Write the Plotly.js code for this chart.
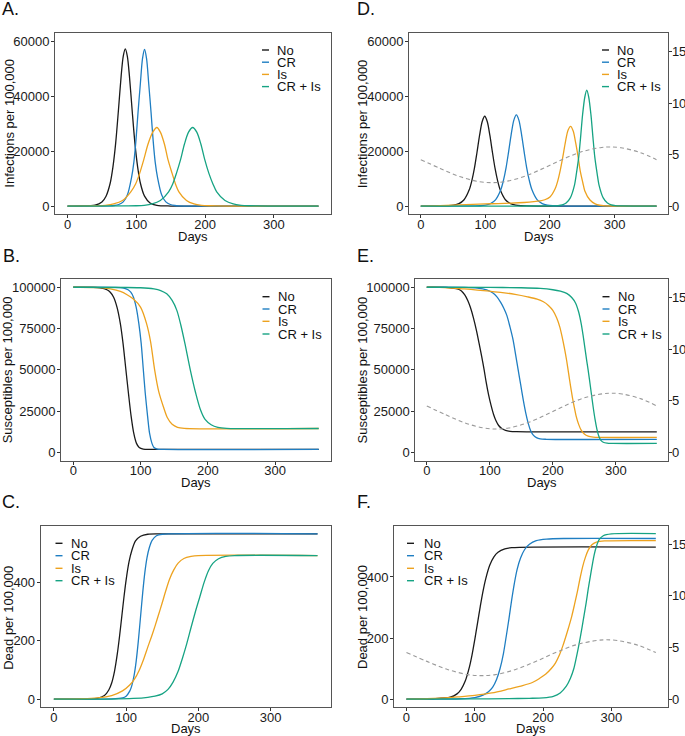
<!DOCTYPE html>
<html>
<head>
<meta charset="utf-8">
<script src="https://cdn.plot.ly/plotly-3.0.1.min.js"></script>
<style>html,body{margin:0;padding:0;background:#fff}#chart{width:685px;height:736px}</style>
</head>
<body>
<div id="chart"></div>
<script>
// ---------- data ----------
const seriesNames = ["No", "CR", "Is", "CR + Is"];
const xTicks = [0, 100, 200, 300];

// Panel A: infections, no seasonality
const aNoX = [0, 20, 40, 50, 56, 62, 66, 70, 74, 78, 81, 84, 87, 90, 94, 98, 102, 106, 112, 120, 130, 150, 200, 365];
const aNoY = [0, 20, 355, 1520, 3600, 8300, 14200, 22900, 34800, 47400, 54500, 57200, 54500, 47400, 34800, 22900, 14200, 8300, 3600, 1130, 265, 10, 0, 0];
const aCrX = [0, 40, 62, 68, 74.5, 81, 87, 93, 96.5, 99.5, 102.5, 106, 109, 112, 115, 118, 121.5, 124.5, 127.5, 131, 137, 143, 149.5, 156, 162, 175, 200, 365];
const aCrY = [0, 5, 76, 207, 563, 1520, 4030, 10300, 16000, 23900, 34000, 44800, 53600, 57000, 53600, 44800, 34000, 23900, 16000, 10300, 4030, 1520, 563, 207, 76, 10, 0, 0];
const aIsX = [0, 30, 42, 55, 67, 80, 92, 99, 105, 111, 117, 124, 130, 135, 141, 146, 152, 157, 162, 173, 184, 195, 206, 216, 240, 365];
const aIsY = [0, 38, 104, 282, 760, 2020, 5180, 8040, 12000, 17000, 22500, 26900, 28600, 26900, 22500, 17000, 12000, 8040, 5180, 2020, 760, 282, 104, 38, 5, 0];
const aBothX = [0, 88, 100, 111.5, 123, 135, 147, 153, 158.5, 164.5, 170, 176, 182, 188, 194, 199.5, 205.5, 211.5, 217, 229, 241, 252.5, 264, 276, 300, 365];
const aBothY = [0, 38, 104, 282, 760, 2020, 5180, 8040, 12000, 17000, 22500, 26900, 28600, 26900, 22500, 17000, 12000, 8040, 5180, 2020, 760, 282, 104, 38, 3, 0];

// Panel B: susceptibles, no seasonality
const bNoX = [0, 30, 40, 50, 55, 60, 65, 70, 74, 78, 82, 86, 90, 94, 98, 104, 115, 365];
const bNoY = [100000, 99900, 99600, 98500, 97000, 94000, 88000, 78000, 66000, 51000, 36000, 22000, 11500, 5500, 3000, 2000, 1800, 1800];
const bCrX = [0, 60, 75, 81.5, 85.5, 89.5, 93.5, 97.5, 101, 104, 107, 110.5, 113.5, 117, 120, 125, 134, 365];
const bCrY = [100000, 99900, 99500, 98500, 97000, 94000, 88000, 78000, 66000, 51000, 36000, 22000, 11500, 5500, 3000, 2000, 1800, 1800];
const bIsX = [0, 40, 55, 70, 80, 89, 100, 109, 115, 121, 127, 134, 140, 147, 155, 165, 365];
const bIsY = [100000, 99800, 99000, 97500, 95500, 93000, 88000, 78000, 67000, 50000, 37000, 27700, 21000, 17000, 15200, 14600, 14500];
const bBothX = [0, 100, 120, 130, 139, 147, 154, 160, 166, 174, 182, 189, 196, 205, 215, 228, 365];
const bBothY = [100000, 99700, 99000, 98000, 96000, 92000, 86000, 77000, 66000, 50000, 36000, 26000, 20000, 16800, 15200, 14600, 14500];

// Panel C: dead, no seasonality
const cNoX = [0, 50, 60, 70, 76, 80, 84, 88, 91, 94, 97, 100, 104, 108, 113, 120, 130, 150, 365];
const cNoY = [0, 0.5, 2.5, 12, 31, 55, 96, 158, 217, 283, 349, 408, 470, 510, 542, 558, 565, 566, 566];
const cCrX = [0, 80, 95, 100, 105, 108, 111, 114, 117, 120, 123, 126, 129, 132, 136, 142, 150, 365];
const cCrY = [0, 0.5, 4, 10, 27, 47, 80, 131, 201, 283, 365, 435, 486, 518, 544, 560, 565, 566];
const cIsX = [0, 40, 60, 80, 95, 105, 112, 118, 124, 130, 135, 140, 145, 150, 155, 160, 166, 172, 180, 190, 200, 365];
const cIsY = [0, 1, 4, 12, 28, 48, 70, 98, 135, 178, 213, 250, 290, 330, 372, 410, 443, 466, 482, 489, 492, 492];
const cBothX = [0, 80, 110, 130, 140, 150, 158, 165, 172, 178, 184, 190, 196, 202, 208, 214, 220, 228, 238, 250, 365];
const cBothY = [0, 0, 2, 6, 10, 18, 33, 58, 95, 140, 190, 246, 300, 350, 400, 440, 465, 481, 489, 492, 492];

// Panel D: infections, seasonal
const dNoX = [0, 35, 43, 51, 59, 67, 75, 79, 83, 87, 91, 95, 99, 103, 107, 111, 115, 119, 123, 131, 139, 147, 155, 163, 180, 365];
const dNoY = [0, 44, 119, 323, 870, 2310, 5920, 9190, 13700, 19500, 25700, 30700, 32700, 30700, 25700, 19500, 13700, 9190, 5920, 2310, 870, 323, 119, 44, 5, 0];
const dCrX = [0, 84, 92, 100, 108, 116, 124, 128, 132, 136, 140, 144, 148, 152, 156, 160, 164, 168, 172, 180, 188, 196, 204, 212, 230, 365];
const dCrY = [0, 44, 119, 330, 880, 2350, 6000, 9330, 13900, 19800, 26100, 31200, 33200, 31200, 26100, 19800, 13900, 9330, 6000, 2350, 880, 330, 120, 45, 5, 0];
const dIsX = [0, 20, 40, 60, 80, 100, 120, 140, 160, 175, 185, 192, 200, 208, 212, 216, 220, 224, 228, 232, 236, 240, 244, 247, 251, 254, 262, 270, 277, 285, 295, 320, 365];
const dIsY = [0, 60, 200, 420, 620, 780, 900, 1050, 1300, 1600, 1900, 2300, 3300, 6300, 9100, 13100, 18000, 23400, 27600, 29000, 27300, 22800, 17300, 12600, 8400, 5500, 2200, 800, 300, 100, 30, 0, 0];
const dBothX = [0, 150, 206, 212.5, 219, 225, 231.5, 238, 241, 244.5, 247.5, 250.5, 254, 257, 260, 263.5, 266.5, 269.5, 273, 276, 282.5, 289, 295, 301.5, 308, 330, 365];
const dBothY = [0, 10, 57, 154, 417, 1120, 2980, 7640, 11900, 17700, 25200, 33200, 39700, 42200, 39700, 33200, 25200, 17700, 11900, 7640, 2980, 1120, 417, 154, 57, 5, 0];

// Panel E: susceptibles, seasonal
const eNoX = [0, 30, 40, 50, 55, 60, 65, 69, 74, 79, 83, 87, 91, 94, 98, 102, 106, 110, 114, 119, 125, 132, 142, 365];
const eNoY = [100000, 99900, 99500, 98800, 97800, 95500, 92000, 88000, 81500, 73500, 66000, 58300, 50000, 43000, 35000, 28500, 23000, 19000, 16300, 14500, 13400, 12800, 12550, 12500];
const eCrX = [0, 60, 80, 95, 105, 111, 117, 122, 127, 132, 137, 141, 145, 149, 153, 157, 161, 165, 169, 174, 180, 190, 365];
const eCrY = [100000, 99900, 99500, 98400, 96500, 94300, 91000, 87500, 83000, 76000, 68000, 59000, 50000, 41000, 32000, 24000, 17600, 13000, 10500, 9000, 8200, 7950, 7900];
const eIsX = [0, 20, 40, 60, 80, 100, 120, 140, 160, 175, 185, 193, 200, 206, 211, 215, 219, 222, 225, 228, 231, 234, 237, 241, 245, 250, 256, 264, 275, 365];
const eIsY = [100000, 99900, 99500, 99000, 98300, 97600, 96800, 95700, 94200, 92800, 91200, 89000, 86000, 81500, 76000, 69500, 62000, 55500, 48000, 40500, 33500, 27500, 22000, 17000, 13500, 11200, 9900, 9300, 9100, 9100];
const eBothX = [0, 100, 150, 180, 200, 212, 222, 230, 236, 241, 245, 248, 251, 254, 256, 258, 261, 264, 267, 270, 273, 276, 280, 286, 295, 365];
const eBothY = [100000, 99900, 99700, 99300, 98500, 97600, 96300, 93800, 90500, 85000, 78000, 71000, 63000, 55000, 50000, 44500, 36000, 27500, 20000, 14000, 9800, 7500, 6200, 5600, 5450, 5450];

// Panel F: dead, seasonal
const fNoX = [0, 40, 64, 74, 80, 86, 92, 96, 100, 104, 108, 112, 116, 122, 128, 134, 144, 154, 365];
const fNoY = [0, 1, 6, 17, 32, 59, 104, 145, 195, 249, 303, 353, 394, 439, 466, 481, 492, 496, 498];
const fCrX = [0, 80, 100, 112, 120, 126, 132, 137, 142, 146, 150, 154, 158, 162, 167, 173, 180, 190, 205, 230, 365];
const fCrY = [0, 1, 5, 13, 24, 38, 65, 100, 150, 205, 263, 325, 380, 425, 462, 490, 507, 519, 524, 526, 526];
const fIsX = [0, 30, 50, 75, 100, 125, 150, 170, 185, 195, 204, 212, 218, 224, 229, 234, 238, 242, 246, 250, 254, 258, 262, 266, 271, 278, 290, 365];
const fIsY = [0, 1, 3, 7, 12, 20, 33, 44, 55, 68, 82, 100, 118, 145, 175, 210, 240, 272, 310, 350, 395, 435, 465, 488, 505, 514, 518, 519];
const fBothX = [0, 100, 150, 180, 200, 215, 225, 234, 240, 245, 249, 253, 257, 260, 263, 266, 269, 272, 275, 278, 282, 288, 300, 365];
const fBothY = [0, 0.5, 1.5, 2.5, 4, 9, 20, 42, 68, 100, 140, 185, 235, 275, 315, 360, 400, 440, 475, 500, 522, 535, 541, 542];

// Seasonal forcing (right axis of D, E, F)
const seasonX = [0, 30, 60, 90, 110, 130, 160, 190, 220, 250, 280, 292, 310, 340, 365];
const seasonY = [4.5, 3.65, 2.87, 2.37, 2.27, 2.37, 2.87, 3.67, 4.55, 5.29, 5.69, 5.74, 5.66, 5.19, 4.5];

// ---------- styling / layout ----------
const W = 685, H = 736;
const colors = ["#1a1a1a", "#1f7ec2", "#eda21f", "#16a383"];
const px = v => v / W;
const py = v => 1 - v / H;
const FONT = "Liberation Sans, Arial, Helvetica, sans-serif";

const panels = [
  {xa: "x",  ya: "y",  data: [[aNoX,aNoY],[aCrX,aCrY],[aIsX,aIsY],[aBothX,aBothY]], box: [55, 331, 33, 214.3],     yr: [-3000, 63000], yt: [0,20000,40000,60000], sec: null},
  {xa: "x2", ya: "y2", data: [[dNoX,dNoY],[dCrX,dCrY],[dIsX,dIsY],[dBothX,dBothY]], box: [409, 668.3, 33, 214.3],  yr: [-3000, 63000], yt: [0,20000,40000,60000], sec: "y7"},
  {xa: "x3", ya: "y3", data: [[bNoX,bNoY],[bCrX,bCrY],[bIsX,bIsY],[bBothX,bBothY]], box: [61, 331, 279, 460.7],  yr: [-5000, 105000], yt: [0,25000,50000,75000,100000], sec: null},
  {xa: "x4", ya: "y4", data: [[eNoX,eNoY],[eCrX,eCrY],[eIsX,eIsY],[eBothX,eBothY]], box: [415.3, 668.3, 279, 460.7], yr: [-5000, 105000], yt: [0,25000,50000,75000,100000], sec: "y8"},
  {xa: "x5", ya: "y5", data: [[cNoX,cNoY],[cCrX,cCrY],[cIsX,cIsY],[cBothX,cBothY]], box: [40.7, 330.7, 525.7, 707.3], yr: [-28.3, 594.3], yt: [0,200,400], sec: null},
  {xa: "x6", ya: "y6", data: [[fNoX,fNoY],[fCrX,fCrY],[fIsX,fIsY],[fBothX,fBothY]], box: [394, 668.3, 525.7, 707.3], yr: [-27, 568], yt: [0,200,400], sec: "y9"}
];

const traces = [];
const layout = {
  width: W, height: H,
  margin: {l: 0, r: 0, t: 0, b: 0},
  paper_bgcolor: "#ffffff", plot_bgcolor: "#ffffff",
  font: {family: FONT, size: 13, color: "#1a1a1a"},
  showlegend: false,
  annotations: [], shapes: []
};

const axisCommon = {
  ticks: "outside", ticklen: 3, tickwidth: 1, tickcolor: "#333333",
  showline: true, linecolor: "#555555", linewidth: 1, mirror: true,
  showgrid: false, zeroline: false, fixedrange: true,
  tickfont: {family: FONT, size: 13, color: "#1a1a1a"}
};

panels.forEach((p, i) => {
  const n = i + 1;
  const xName = n === 1 ? "xaxis" : "xaxis" + n;
  const yName = n === 1 ? "yaxis" : "yaxis" + n;
  const [x0, x1, y0, y1] = p.box;
  layout[xName] = Object.assign({}, axisCommon, {
    domain: [px(x0), px(x1)], range: [-18.25, 383.25], tickvals: xTicks,
    anchor: p.ya, ticklabelstandoff: -5
  });
  layout[yName] = Object.assign({}, axisCommon, {
    domain: [py(y1), py(y0)], range: p.yr, tickvals: p.yt, tickformat: "d",
    anchor: p.xa, ticklabelstandoff: -1
  });
  p.data.forEach((d, k) => {
    traces.push({
      type: "scatter", mode: "lines", name: seriesNames[k],
      x: d[0], y: d[1], xaxis: p.xa, yaxis: p.ya,
      line: {color: colors[k], width: 1.3, shape: "spline", smoothing: 0.8},
      hoverinfo: "skip", showlegend: false
    });
  });
  if (p.sec) {
    const secName = "yaxis" + p.sec.slice(1);
    layout[secName] = {
      overlaying: p.ya, anchor: p.xa, side: "right",
      range: [-0.8, 16.8], tickvals: [0, 5, 10, 15],
      ticks: "outside", ticklen: 3, tickwidth: 1, tickcolor: "#333333",
      showline: false, showgrid: false, zeroline: false, fixedrange: true,
      ticklabelstandoff: -3,
      tickfont: {family: FONT, size: 13, color: "#1a1a1a"}
    };
    traces.push({
      type: "scatter", mode: "lines", name: "seasonality",
      x: seasonX, y: seasonY, xaxis: p.xa, yaxis: p.sec,
      line: {color: "#9a9a9a", width: 1.1, dash: "4px,3px", shape: "spline", smoothing: 1},
      hoverinfo: "skip", showlegend: false
    });
  }
});

// panel letters
const letters = [["A.", 0, 8.5], ["D.", 355, 8.5], ["B.", 1, 256], ["E.", 355, 256], ["C.", 0, 501.7], ["F.", 355, 501.7]];
letters.forEach(([t, x, y]) => layout.annotations.push({
  text: t, xref: "paper", yref: "paper", x: px(x), y: py(y), xanchor: "left", yanchor: "middle",
  showarrow: false, font: {family: FONT, size: 18, color: "#111111"}
}));

// axis titles
const yTitles = [
  ["Infections per 100,000", 9.2, 123.5], ["Infections per 100,000", 362.8, 123.5],
  ["Susceptibles per 100,000", 8.3, 370], ["Susceptibles per 100,000", 362.5, 370],
  ["Dead per 100,000", 8.3, 617.5], ["Dead per 100,000", 362.5, 617.5]
];
yTitles.forEach(([t, x, y]) => layout.annotations.push({
  text: t, xref: "paper", yref: "paper", x: px(x), y: py(y), xanchor: "center", yanchor: "middle",
  textangle: -90, showarrow: false, font: {family: FONT, size: 13, color: "#111111"}
}));
const xTitles = [[193, 236], [539, 236], [196, 482], [542, 482], [186, 728.5], [531, 728.5]];
xTitles.forEach(([x, y]) => layout.annotations.push({
  text: "Days", xref: "paper", yref: "paper", x: px(x), y: py(y), xanchor: "center", yanchor: "middle",
  showarrow: false, font: {family: FONT, size: 13, color: "#111111"}
}));

// legends (key line + label) per panel
const legendPos = [
  [262, 275, [50, 62.2, 74.4, 86.6]],
  [602, 615, [50, 62.2, 74.4, 86.6]],
  [262.5, 276, [296.7, 309, 321.3, 334]],
  [602.5, 616, [296.7, 309, 321.3, 334]],
  [55.5, 69.3, [543.3, 555.7, 568.3, 580.7]],
  [407, 421.7, [543.3, 555.7, 568.3, 580.7]]
];
legendPos.forEach(([kx, tx, ys]) => {
  ys.forEach((y, k) => {
    layout.shapes.push({type: "line", xref: "paper", yref: "paper",
      x0: px(kx), x1: px(kx + 7), y0: py(y), y1: py(y),
      line: {color: colors[k], width: 1.4}});
    layout.annotations.push({text: seriesNames[k], xref: "paper", yref: "paper",
      x: px(tx), y: py(y), xanchor: "left", yanchor: "middle", showarrow: false,
      font: {family: FONT, size: 13, color: "#111111"}});
  });
});

Plotly.newPlot("chart", traces, layout, {staticPlot: true, displayModeBar: false});
</script>
</body>
</html>
